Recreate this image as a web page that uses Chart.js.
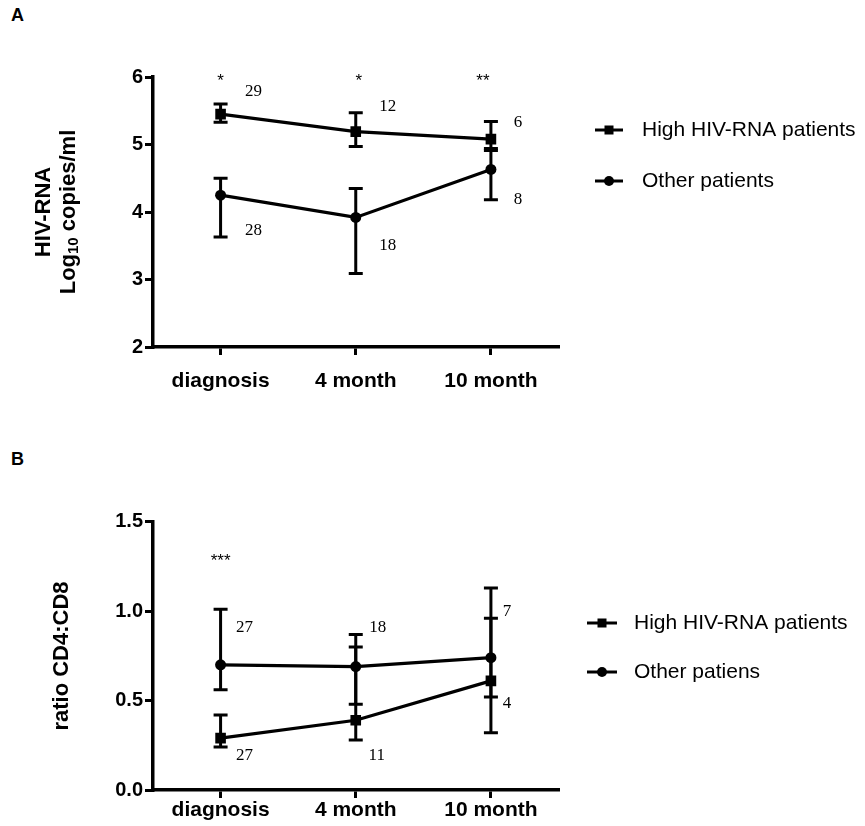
<!DOCTYPE html>
<html><head><meta charset="utf-8">
<script src="https://cdn.jsdelivr.net/npm/chart.js@4.4.0/dist/chart.umd.min.js"></script>
<style>
html,body{margin:0;padding:0;background:#fff;width:865px;height:826px;overflow:hidden;}
.wrap{position:absolute;left:0;width:865px;}
.letter{position:absolute;left:11px;font:bold 18px 'Liberation Sans',Arial,sans-serif;color:#000;line-height:20px;}
</style></head><body>
<div class="letter" style="top:5px">A</div>
<div class="letter" style="top:449px">B</div>
<div class="wrap" style="top:0;height:420px"><canvas id="cA"></canvas></div>
<div class="wrap" style="top:420px;height:406px"><canvas id="cB"></canvas></div>
<script>
// ---------- data ----------
const categories = ['diagnosis', '4 month', '10 month'];

// Panel A: HIV-RNA (log10 copies/ml)
const hivHigh      = [5.45, 5.19, 5.08];
const hivHighLow   = [5.33, 4.97, 4.94];
const hivHighHigh  = [5.60, 5.47, 5.34];
const hivOther     = [4.25, 3.92, 4.63];
const hivOtherLow  = [3.63, 3.09, 4.18];
const hivOtherHigh = [4.50, 4.35, 4.91];
const hivHighN  = ['29', '12', '6'];
const hivOtherN = ['28', '18', '8'];
const hivSig    = ['*', '*', '**'];
const hivTicks  = [2, 3, 4, 5, 6];

// Panel B: ratio CD4:CD8
const ratioHigh      = [0.29, 0.39, 0.61];
const ratioHighLow   = [0.24, 0.28, 0.32];
const ratioHighHigh  = [0.42, 0.80, 0.96];
const ratioOther     = [0.70, 0.69, 0.74];
const ratioOtherLow  = [0.56, 0.48, 0.52];
const ratioOtherHigh = [1.01, 0.87, 1.13];
const ratioHighN  = ['27', '11', '4'];
const ratioOtherN = ['27', '18', '7'];
const ratioSig    = ['***', '', ''];
const ratioTicks  = [0.0, 0.5, 1.0, 1.5];

// ---------- plugins ----------
const SANS = "'Liberation Sans', Arial, sans-serif";
const SERIF = "'Liberation Serif', 'Times New Roman', serif";

const errorBars = {
  id: 'errorBars',
  beforeDatasetsDraw(chart, args, opts) {
    const ctx = chart.ctx, xs = chart.scales.x, ys = chart.scales.y;
    ctx.save();
    ctx.strokeStyle = '#000';
    ctx.lineWidth = opts.lineWidth;
    ctx.lineCap = 'butt';
    chart.data.datasets.forEach(ds => {
      if (!ds.errLow) return;
      ds.data.forEach((v, i) => {
        const px = xs.getPixelForValue(i);
        const lo = ys.getPixelForValue(ds.errLow[i]);
        const hi = ys.getPixelForValue(ds.errHigh[i]);
        const w = opts.capWidth / 2;
        ctx.beginPath();
        ctx.moveTo(px, lo); ctx.lineTo(px, hi);
        ctx.moveTo(px - w, lo); ctx.lineTo(px + w, lo);
        ctx.moveTo(px - w, hi); ctx.lineTo(px + w, hi);
        ctx.stroke();
      });
    });
    ctx.restore();
  }
};

const annotations = {
  id: 'annots',
  afterDatasetsDraw(chart, args, opts) {
    const ctx = chart.ctx, xs = chart.scales.x, ys = chart.scales.y;
    ctx.save();
    ctx.fillStyle = '#000';
    ctx.textAlign = 'center';
    ctx.textBaseline = 'middle';
    (opts.items || []).forEach(it => {
      if (!it.text) return;
      ctx.font = it.font;
      const px = xs.getPixelForValue(it.i) + it.dx;
      const py = ys.getPixelForValue(it.y) + (it.dy || 0);
      ctx.fillText(it.text, px, py);
    });
    ctx.restore();
  }
};

const sideLegend = {
  id: 'sideLegend',
  afterDraw(chart, args, opts) {
    const ctx = chart.ctx;
    ctx.save();
    chart.data.datasets.forEach((ds, k) => {
      const y = opts.rows[k];
      ctx.strokeStyle = '#000';
      ctx.lineWidth = 3;
      ctx.beginPath(); ctx.moveTo(opts.x1, y); ctx.lineTo(opts.x2, y); ctx.stroke();
      const cx = (opts.x1 + opts.x2) / 2;
      ctx.fillStyle = '#000';
      if (ds.pointStyle === 'rect') {
        ctx.fillRect(cx - 4.5, y - 4.5, 9, 9);
      } else {
        ctx.beginPath(); ctx.arc(cx, y, 5, 0, Math.PI * 2); ctx.fill();
      }
      ctx.font = opts.font;
      ctx.textAlign = 'left';
      ctx.textBaseline = 'middle';
      ctx.fillText(ds.label, opts.textX, y);
    });
    ctx.restore();
  }
};

const yTitle = {
  id: 'yTitle',
  afterDraw(chart, args, opts) {
    const ctx = chart.ctx;
    const cy = opts.cy;
    opts.lines.forEach(line => {
      ctx.save();
      ctx.translate(line.x, cy);
      ctx.rotate(-Math.PI / 2);
      ctx.fillStyle = '#000';
      ctx.textBaseline = 'middle';
      ctx.textAlign = 'left';
      const parts = line.parts;
      let total = 0;
      parts.forEach(p => { ctx.font = p.font; p.w = ctx.measureText(p.text).width; total += p.w; });
      let x = -total / 2;
      parts.forEach(p => {
        ctx.font = p.font;
        ctx.fillText(p.text, x, p.dy || 0);
        x += p.w;
      });
      ctx.restore();
    });
  }
};

// ---------- chart builder ----------
function makeChart(canvasId, cfg) {
  return new Chart(document.getElementById(canvasId), {
    type: 'line',
    data: {
      labels: categories,
      datasets: [
        {
          label: 'High HIV-RNA patients',
          data: cfg.high, errLow: cfg.highLow, errHigh: cfg.highHigh,
          borderColor: '#000', backgroundColor: '#000', borderWidth: 3.2,
          pointStyle: 'rect', pointRadius: 7.5, pointBackgroundColor: '#000', pointBorderColor: '#000',
          pointBorderWidth: 0, tension: 0, fill: false
        },
        {
          label: cfg.otherLabel,
          data: cfg.other, errLow: cfg.otherLow, errHigh: cfg.otherHigh,
          borderColor: '#000', backgroundColor: '#000', borderWidth: 3.2,
          pointStyle: 'circle', pointRadius: 5.5, pointBackgroundColor: '#000', pointBorderColor: '#000',
          pointBorderWidth: 0, tension: 0, fill: false
        }
      ]
    },
    options: {
      responsive: true,
      maintainAspectRatio: false,
      animation: false,
      events: [],
      layout: { padding: { left: 0, top: cfg.top, right: 306.5, bottom: 0 } },
      plugins: {
        legend: { display: false },
        tooltip: { enabled: false },
        errorBars: { lineWidth: 3, capWidth: 14 },
        annots: { items: cfg.annots },
        sideLegend: cfg.legend,
        yTitle: cfg.yTitle
      },
      scales: {
        x: {
          type: 'category',
          offset: true,
          grid: { display: true, drawOnChartArea: false, drawTicks: true, tickLength: 8, offset: false, color: '#000', lineWidth: 3 },
          border: { display: true, color: '#000', width: 3.5 },
          ticks: { color: '#000', font: { family: SANS, size: 21, weight: 'bold' }, padding: cfg.xPad, maxRotation: 0, autoSkip: false },
          afterFit(scale) { scale.height = cfg.xHeight; }
        },
        y: {
          type: 'linear',
          min: cfg.min, max: cfg.max,
          afterBuildTicks(scale) { scale.ticks = cfg.ticks.map(v => ({ value: v })); },
          grid: { display: true, drawOnChartArea: false, drawTicks: true, tickLength: 8, color: '#000', lineWidth: 3 },
          border: { display: true, color: '#000', width: 3.5 },
          ticks: { color: '#000', font: { family: SANS, size: 20, weight: 'bold' }, padding: 2, callback: cfg.tickFmt },
          afterFit(scale) { scale.width = 153; }
        }
      }
    },
    plugins: [errorBars, annotations, sideLegend, yTitle]
  });
}

const nFont = '17px ' + SERIF;
const sFont = '17px ' + SANS;

const annotsA = [];
hivSig.forEach((t, i) => annotsA.push({ i, y: 6.0, dy: 4, dx: [0, 3, -8][i], text: t, font: sFont }));
hivHighN.forEach((t, i) => annotsA.push({ i, y: [5.78, 5.56, 5.32][i], dx: [33, 32, 27][i], text: t, font: nFont }));
hivOtherN.forEach((t, i) => annotsA.push({ i, y: [3.72, 3.50, 4.19][i], dx: [33, 32, 27][i], text: t, font: nFont }));

makeChart('cA', {
  high: hivHigh, highLow: hivHighLow, highHigh: hivHighHigh,
  other: hivOther, otherLow: hivOtherLow, otherHigh: hivOtherHigh,
  otherLabel: 'Other patients',
  min: 2, max: 6, ticks: hivTicks, tickFmt: v => String(v),
  top: 77, xHeight: 73, xPad: 14,
  annots: annotsA,
  legend: { x1: 595, x2: 623, textX: 642, rows: [130, 181], font: '21px ' + SANS },
  yTitle: {
    cy: 212,
    lines: [
      { x: 44, parts: [{ text: 'HIV-RNA', font: 'bold 22px ' + SANS }] },
      { x: 69, parts: [
        { text: 'Log', font: 'bold 22px ' + SANS },
        { text: '10', font: 'bold 15px ' + SANS, dy: 5 },
        { text: ' copies/ml', font: 'bold 22px ' + SANS }
      ] }
    ]
  }
});

const annotsB = [];
ratioSig.forEach((t, i) => annotsB.push({ i, y: 1.30, dy: 4, dx: 0, text: t, font: sFont }));
ratioOtherN.forEach((t, i) => annotsB.push({ i, y: [0.91, 0.91, 1.0][i], dx: [24, 22, 16][i], text: t, font: nFont }));
ratioHighN.forEach((t, i) => annotsB.push({ i, y: [0.195, 0.195, 0.486][i], dx: [24, 21, 16][i], text: t, font: nFont }));

makeChart('cB', {
  high: ratioHigh, highLow: ratioHighLow, highHigh: ratioHighHigh,
  other: ratioOther, otherLow: ratioOtherLow, otherHigh: ratioOtherHigh,
  otherLabel: 'Other patiens',
  min: 0, max: 1.5, ticks: ratioTicks, tickFmt: v => Number(v).toFixed(1),
  top: 101.7, xHeight: 36, xPad: 0,
  annots: annotsB,
  legend: { x1: 587, x2: 617, textX: 634, rows: [203, 252], font: '21px ' + SANS },
  yTitle: {
    cy: 236,
    lines: [
      { x: 62, parts: [{ text: 'ratio CD4:CD8', font: 'bold 22px ' + SANS }] }
    ]
  }
});
</script>
</body></html>
